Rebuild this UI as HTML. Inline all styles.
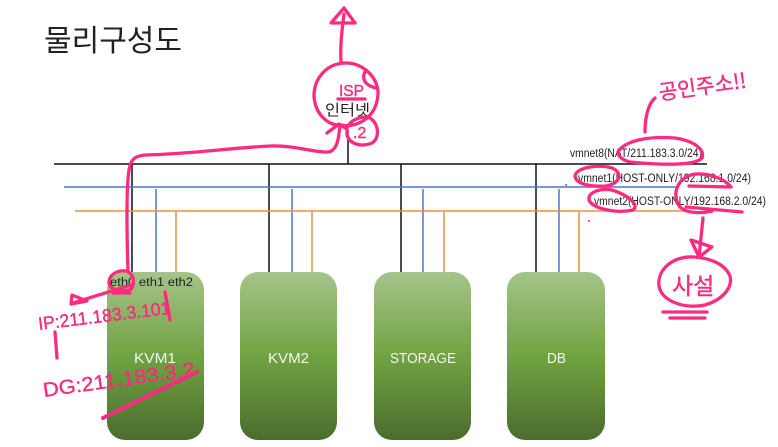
<!DOCTYPE html>
<html lang="ko">
<head>
<meta charset="utf-8">
<title>물리구성도</title>
<style>
html,body{margin:0;padding:0;background:#fff;}
body{width:778px;height:447px;overflow:hidden;}
svg{display:block;}
text{font-family:"Liberation Sans","Noto Sans CJK KR",sans-serif;}
.kr{font-family:"Noto Sans CJK KR","NanumGothic",sans-serif;}
.lbl{font-size:11.500px;fill:#222;}
.box{font-size:15px;fill:#f2f6ee;}
.ink{fill:none;stroke:#fb2c7f;stroke-width:3.300;stroke-linecap:round;stroke-linejoin:round;}
.hand{fill:#fb2c7f;stroke:#fb2c7f;stroke-width:.4;}
</style>
</head>
<body>
<svg width="778" height="447" viewBox="0 0 778 447" xmlns="http://www.w3.org/2000/svg">
<defs>
<linearGradient id="g" x1="0" y1="0" x2="0" y2="1">
<stop offset="0" stop-color="#a5c48a"/>
<stop offset=".5" stop-color="#71a342"/>
<stop offset="1" stop-color="#4a6c2e"/>
</linearGradient>
</defs>

<text class="kr" x="44" y="51" font-size="30" fill="#222" textLength="138" lengthAdjust="spacingAndGlyphs">물리구성도</text>

<!-- network lines -->
<g fill="none" stroke-width="1.500">
<path d="M54 164H707M348 130V164M132 164V272M269 164V272M401 164V272M536 164V272" stroke="#111"/>
<path d="M64 187H678M156 189V272M292 189V272M423 189V272M559 189V272" stroke="#4a78c8"/>
<path d="M75 211H690M176 211V272M312 211V272M444 211V272M579 211V272" stroke="#ed8f3f"/>
</g>

<!-- servers -->
<rect x="107" y="272" width="97" height="168" rx="18" fill="url(#g)"/>
<rect x="240" y="272" width="97" height="168" rx="18" fill="url(#g)"/>
<rect x="374" y="272" width="97" height="168" rx="18" fill="url(#g)"/>
<rect x="507" y="272" width="98" height="168" rx="18" fill="url(#g)"/>
<text class="box" x="134" y="363" textLength="42" lengthAdjust="spacingAndGlyphs">KVM1</text>
<text class="box" x="268" y="363" textLength="41" lengthAdjust="spacingAndGlyphs">KVM2</text>
<text class="box" x="390" y="363" textLength="66" lengthAdjust="spacingAndGlyphs">STORAGE</text>
<text class="box" x="547" y="363" textLength="19" lengthAdjust="spacingAndGlyphs">DB</text>

<text class="lbl" x="110" y="286" textLength="83" lengthAdjust="spacingAndGlyphs">eth0 eth1 eth2</text>
<text class="kr" x="325" y="115" font-size="15" fill="#222" textLength="45" lengthAdjust="spacingAndGlyphs">인터넷</text>
<text class="lbl" x="570" y="157" textLength="132" lengthAdjust="spacingAndGlyphs">vmnet8(NAT/211.183.3.0/24)</text>
<text class="lbl" x="578" y="182" textLength="173" lengthAdjust="spacingAndGlyphs">vmnet1(HOST-ONLY/192.168.1.0/24)</text>
<text class="lbl" x="594" y="205" textLength="172" lengthAdjust="spacingAndGlyphs">vmnet2(HOST-ONLY/192.168.2.0/24)</text>

<!-- pink annotations -->
<g class="ink">
<path d="M341 62C340 45 342 30 344 14"/>
<path d="M331 23L344 8L355 23Z"/>
<path d="M346 63C327 63 314 78 314 96C315 114 328 126 341 125C350 127 360 124 367 118C375 111 378 102 378 92C377 76 362 63 346 63Z"/>
<path d="M366 70C361 78 364 85 376 88"/>
<path d="M347 128C350 120 362 115 370 118C379 124 380 138 372 143C362 147 350 145 347 135Z"/>
<path d="M128 272C127 240 126 190 129 170C131 158 136 156 145 155C190 154 230 148 270 146C295 145 315 153 328 152C338 151 339 135 340 125"/>
<path d="M327 133L339 124L345 128"/>
<path d="M655 98C648 104 645 118 645 132"/>
<path d="M618 152C625 140 650 136 675 138C695 141 705 150 702 158C695 166 660 165 630 162C622 160 618 156 618 152Z"/>
<path d="M575 176C576 167 600 164 612 168C622 172 622 183 606 186C590 187 576 184 575 176Z"/>
<path d="M589 200C588 192 600 188 612 190C628 195 640 205 633 210C615 214 592 208 589 200Z"/>
<path d="M731 187C722 176 700 171 688 176C676 182 672 196 680 207C686 213 700 214 712 211M689 186L731 187M686 207L742 212"/>
<path d="M703 218L699 257M691 240L712 247L699 257Z"/>
<path d="M694 257C672 256 657 270 659 286C662 302 685 309 705 305C722 300 733 288 730 276C725 264 710 258 694 257Z"/>
<path d="M663 312H707M670 318H705"/>
<path d="M109 283C109 274 118 270 126 271C134 273 136 285 130 290C120 292 110 290 109 283ZM113 293H130"/>
<path d="M131 285L73 303M72 295L87 301L71 304Z"/>
<path d="M165 292L170 320M55 332L57 358"/>
<path d="M197 372L103 418" stroke-width="4"/>
<path d="M566 185h.1M589 221h.1" stroke-width="2"/>
</g>

<text class="hand" x="339" y="96" font-size="16" textLength="25" lengthAdjust="spacingAndGlyphs">ISP</text>
<path class="ink" d="M338 99H365" stroke-width="2"/>
<text class="hand" x="353" y="138" font-size="16">.2</text>
<text class="hand kr" transform="translate(660 100) rotate(-8)" font-size="21" textLength="88" lengthAdjust="spacingAndGlyphs">공인주소!!</text>
<text class="hand kr" x="672" y="294" font-size="23">사설</text>
<text class="hand" transform="translate(39 330) rotate(-7)" font-size="18" textLength="133" lengthAdjust="spacingAndGlyphs">IP:211.183.3.101</text>
<text class="hand" transform="translate(44 397) rotate(-8)" font-size="20" textLength="153" lengthAdjust="spacingAndGlyphs">DG:211.183.3.2</text>
</svg>
</body>
</html>
